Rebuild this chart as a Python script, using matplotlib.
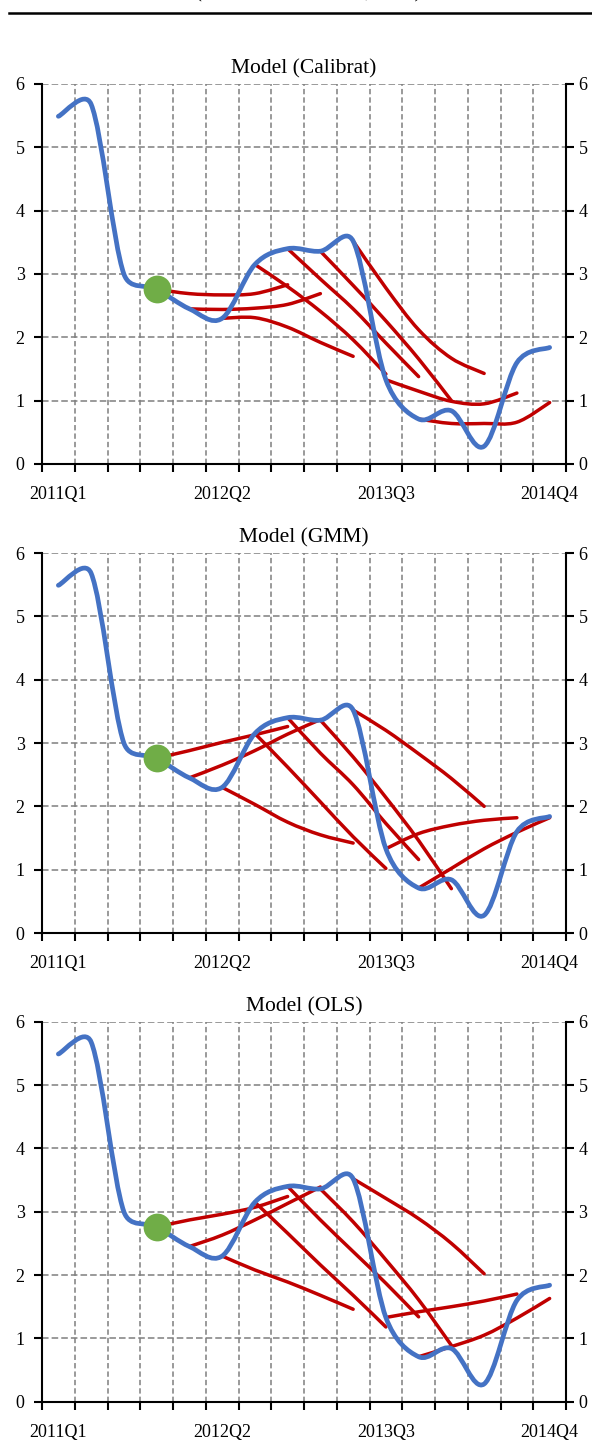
import matplotlib
matplotlib.use('Agg')
import matplotlib.pyplot as plt
import numpy as np
from matplotlib.path import Path
from matplotlib.patches import PathPatch
from matplotlib.lines import Line2D

plt.rcParams['font.family'] = ['Liberation Serif', 'DejaVu Serif']

# quarters on the category axis
quarters = ['2011Q1', '2011Q2', '2011Q3', '2011Q4',
            '2012Q1', '2012Q2', '2012Q3', '2012Q4',
            '2013Q1', '2013Q2', '2013Q3', '2013Q4',
            '2014Q1', '2014Q2', '2014Q3', '2014Q4']
label_every = 5

# actual series (blue)
actual = [5.49, 5.68, 3.00, 2.76, 2.45, 2.30, 3.15, 3.40,
          3.36, 3.52, 1.33, 0.71, 0.84, 0.28, 1.60, 1.84]

# forecast paths (red): each starts at the quarter in fc_start
fc_start = [3, 4, 5, 6, 7, 8, 9, 10, 11]
origin_idx = 3

fc_calibrat = [
    [2.76, 2.69, 2.67, 2.69, 2.83],
    [2.45, 2.44, 2.46, 2.52, 2.69],
    [2.30, 2.31, 2.16, 1.92, 1.70],
    [3.15, 2.80, 2.41, 1.96, 1.42],
    [3.40, 2.92, 2.45, 1.91, 1.38],
    [3.36, 2.82, 2.26, 1.66, 1.00],
    [3.52, 2.78, 2.12, 1.67, 1.43],
    [1.33, 1.15, 0.99, 0.95, 1.12],
    [0.71, 0.64, 0.64, 0.66, 0.97],
]
fc_gmm = [
    [2.76, 2.88, 3.01, 3.13, 3.26],
    [2.45, 2.65, 2.88, 3.14, 3.37],
    [2.30, 2.03, 1.75, 1.55, 1.42],
    [3.15, 2.62, 2.07, 1.52, 1.02],
    [3.40, 2.84, 2.34, 1.73, 1.16],
    [3.36, 2.78, 2.14, 1.46, 0.70],
    [3.52, 3.20, 2.83, 2.44, 2.00],
    [1.33, 1.57, 1.70, 1.78, 1.82],
    [0.71, 1.02, 1.33, 1.59, 1.82],
]
fc_ols = [
    [2.76, 2.87, 2.96, 3.07, 3.24],
    [2.45, 2.63, 2.87, 3.13, 3.39],
    [2.30, 2.08, 1.89, 1.68, 1.46],
    [3.15, 2.66, 2.16, 1.68, 1.18],
    [3.40, 2.87, 2.37, 1.87, 1.34],
    [3.36, 2.84, 2.24, 1.61, 0.89],
    [3.52, 3.21, 2.89, 2.50, 2.02],
    [1.33, 1.42, 1.50, 1.59, 1.70],
    [0.71, 0.87, 1.05, 1.32, 1.63],
]

panels = [('Model (Calibrat)', fc_calibrat),
          ('Model (GMM)', fc_gmm),
          ('Model (OLS)', fc_ols)]

BLUE = '#4472C4'
RED = '#C00000'
GREEN = '#70AD47'
GRID = '#7F7F7F'

# pixels per data unit, used to shape the smoothing on screen like Excel
PX_X, PX_Y = 524 / 16, 380 / 6


def smooth_path(x, y):
    # Excel-like smoothed line: Catmull-Rom Bezier handles (next - previous)/6,
    # each handle kept within half of its own segment on screen
    x = np.asarray(x, float)
    y = np.asarray(y, float)
    n = len(x)
    seg = np.hypot(np.diff(x) * PX_X, np.diff(y) * PX_Y)

    def handle(tx, ty, seglen):
        hl = np.hypot(tx * PX_X, ty * PX_Y)
        k = min(1.0, 0.5 * seglen / hl) if hl > 0 else 1.0
        return tx * k, ty * k

    c_out, c_in = [None] * n, [None] * n
    for i in range(n):
        a = max(i - 1, 0)
        b = min(i + 1, n - 1)
        tx, ty = (x[b] - x[a]) / 6, (y[b] - y[a]) / 6
        if i > 0:
            hx, hy = handle(tx, ty, seg[i - 1])
            c_in[i] = (x[i] - hx, y[i] - hy)
        if i < n - 1:
            hx, hy = handle(tx, ty, seg[i])
            c_out[i] = (x[i] + hx, y[i] + hy)
    verts = [(x[0], y[0])]
    codes = [Path.MOVETO]
    for i in range(n - 1):
        verts += [c_out[i], c_in[i + 1], (x[i + 1], y[i + 1])]
        codes += [Path.CURVE4] * 3
    return Path(verts, codes)


W, H = 592, 1447
fig = plt.figure(figsize=(W / 100, H / 100), dpi=100)

# partly hidden heading and rule at the very top
fig.text(308 / W, 1 + 2.5 / H, '(Actual and forecast, in %)', ha='center',
         va='baseline', fontsize=15)
fig.add_artist(Line2D([9 / W, 1], [1 - 13 / H, 1 - 13 / H], color='black', lw=1.8))

ax_left, ax_w, ax_h = 42 / W, 524 / W, 380 / H
tops = [84, 553, 1021.7]

for (title, fc), top in zip(panels, tops):
    ax = fig.add_axes([ax_left, 1 - (top + 380) / H, ax_w, ax_h])
    xs = np.arange(len(quarters))
    ax.set_xlim(-0.5, len(quarters) - 0.5)
    ax.set_ylim(0, 6)

    for start, path in zip(fc_start, fc):
        px = np.arange(start, start + len(path))
        ax.add_patch(PathPatch(smooth_path(px, path), fill=False, edgecolor=RED,
                               lw=2.5, capstyle='round', joinstyle='round', zorder=3))
    ax.add_patch(PathPatch(smooth_path(xs, actual), fill=False, edgecolor=BLUE,
                           lw=3.4, capstyle='round', joinstyle='round', zorder=4))
    ax.plot([xs[origin_idx]], [actual[origin_idx]], 'o', color=GREEN, ms=20,
            mec='none', zorder=5)

    major = xs[::label_every]
    ax.set_xticks(major)
    ax.set_xticklabels([quarters[i] for i in major], fontsize=13)
    ax.set_xticks(np.arange(-0.5, len(quarters), 1), minor=True)
    ax.tick_params(axis='x', which='major', length=0, pad=16)
    ax.tick_params(axis='x', which='minor', length=6, width=1.5, direction='out')
    ax.set_yticks(range(7))
    ax.tick_params(axis='y', labelsize=13, length=6, width=1.5, pad=6.5)

    ax.grid(axis='x', which='minor', color=GRID, lw=1.1, ls=(0, (3.5, 2)))
    ax.grid(axis='y', which='major', color=GRID, lw=1.1, ls=(0, (4.3, 2)))
    ax.set_axisbelow(True)
    ax.spines['top'].set_visible(False)
    ax.spines['right'].set_visible(False)
    for s in ('left', 'bottom'):
        ax.spines[s].set_linewidth(1.5)

    ax2 = ax.twinx()
    ax2.set_ylim(0, 6)
    ax2.set_yticks(range(7))
    ax2.tick_params(axis='y', labelsize=13, length=6, width=1.5, pad=3)
    for s in ('top', 'left', 'bottom'):
        ax2.spines[s].set_visible(False)
    ax2.spines['right'].set_linewidth(1.5)

    ax.text(0.5, 1 + 10.5 / 380, title, transform=ax.transAxes, ha='center',
            va='baseline', fontsize=15.5)

fig.savefig('out.png', dpi=100)
